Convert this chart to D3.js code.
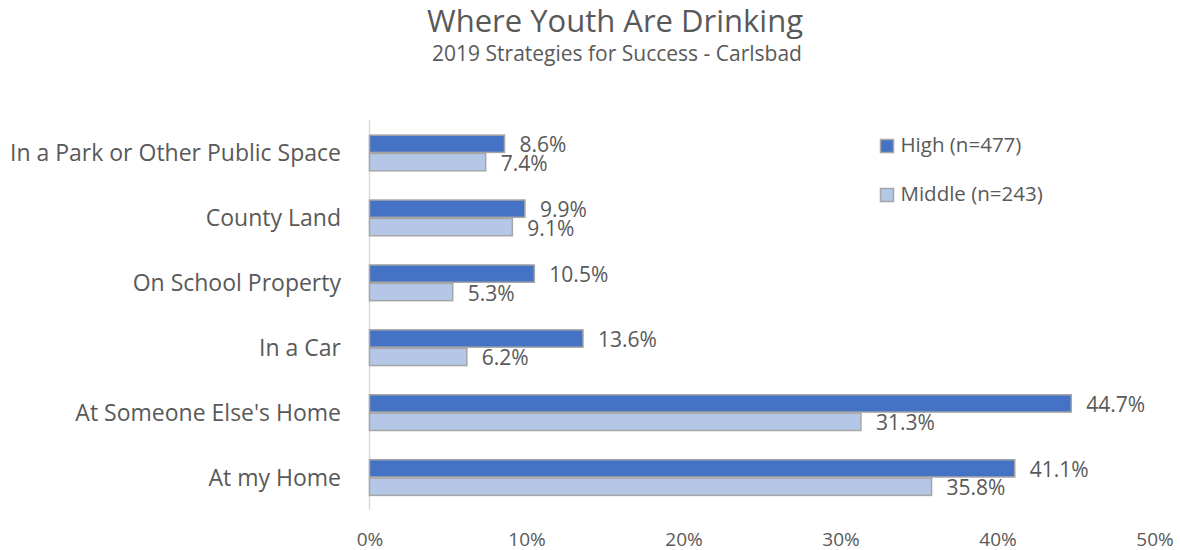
<!DOCTYPE html>
<html>
<head>
<meta charset="utf-8">
<script src="https://cdn.jsdelivr.net/npm/d3@7"></script>
<style>
  html, body { margin: 0; padding: 0; background: #fff; }
  text { font-family: "Open Sans", "Noto Sans", sans-serif; fill: #595959; }
</style>
</head>
<body>
<svg id="chart" width="1180" height="550"></svg>
<script>
// Survey results: share of students by drinking location
const categories = [
  "In a Park or Other Public Space",
  "County Land",
  "On School Property",
  "In a Car",
  "At Someone Else's Home",
  "At my Home"
];
const seriesNames = ["High (n=477)", "Middle (n=243)"];
const highValues = [8.6, 9.9, 10.5, 13.6, 44.7, 41.1];
const middleValues = [7.4, 9.1, 5.3, 6.2, 31.3, 35.8];
const tickValues = [0, 10, 20, 30, 40, 50];
const colors = ["#4472C4", "#B4C7E7"];

const svg = d3.select("#chart");
const margin = { left: 369.5, right: 1154.5, top: 120.5, bottom: 510 };

const x = d3.scaleLinear().domain([0, 50]).range([margin.left, margin.right]);
const y = d3.scaleBand().domain(categories).range([margin.top, margin.bottom]).paddingInner(0.45).paddingOuter(0.225);
const sub = d3.scaleBand().domain([0, 1]).range([0, y.bandwidth()]).paddingInner(0.06);

// Titles
svg.append("text").attr("x", 615).attr("y", 32).attr("text-anchor", "middle")
  .style("font-size", "31px").text("Where Youth Are Drinking");
svg.append("text").attr("x", 617).attr("y", 61).attr("text-anchor", "middle")
  .style("font-size", "21px").text("2019 Strategies for Success - Carlsbad");

// Vertical axis line
svg.append("line").attr("x1", margin.left).attr("x2", margin.left)
  .attr("y1", margin.top).attr("y2", margin.bottom)
  .attr("stroke", "#d9d9d9").attr("stroke-width", 1.5);

// Category labels
svg.append("g").selectAll("text").data(categories).join("text")
  .attr("x", 341).attr("y", d => y(d) + y.bandwidth() / 2)
  .attr("dy", "0.36em").attr("text-anchor", "end")
  .style("font-size", "23px").text(d => d);

// Bars and value labels
const rows = categories.map((c, i) => [
  { cat: c, s: 0, v: highValues[i] },
  { cat: c, s: 1, v: middleValues[i] }
]).flat();

svg.append("g").selectAll("rect").data(rows).join("rect")
  .attr("x", x(0))
  .attr("y", d => y(d.cat) + sub(d.s))
  .attr("width", d => x(d.v) - x(0))
  .attr("height", sub.bandwidth())
  .attr("fill", d => colors[d.s])
  .attr("stroke", "#a6a6a6").attr("stroke-width", 1.5);

svg.append("g").selectAll("text").data(rows).join("text")
  .attr("x", d => x(d.v) + 15)
  .attr("y", d => y(d.cat) + sub(d.s) + sub.bandwidth() / 2 + 1)
  .attr("dy", "0.36em")
  .style("font-size", "21px")
  .text(d => d.v.toFixed(1) + "%");

// X axis tick labels
const xAxis = d3.axisBottom(x).tickValues(tickValues).tickFormat(d => d + "%").tickSize(0).tickPadding(0);
const gx = svg.append("g").attr("transform", "translate(0,532)").call(xAxis);
gx.select(".domain").remove();
gx.selectAll("text").style("font-size", "19px").style("font-family", null).attr("fill", null);

// Legend
const legend = svg.append("g").selectAll("g").data(seriesNames).join("g")
  .attr("transform", (d, i) => `translate(880.5,${139.5 + i * 49})`);
legend.append("rect").attr("width", 13).attr("height", 13)
  .attr("fill", (d, i) => colors[i]).attr("stroke", "#a6a6a6").attr("stroke-width", 1.5);
legend.append("text").attr("x", 20).attr("y", 12.3)
  .style("font-size", "20.5px").text(d => d);
</script>
</body>
</html>
